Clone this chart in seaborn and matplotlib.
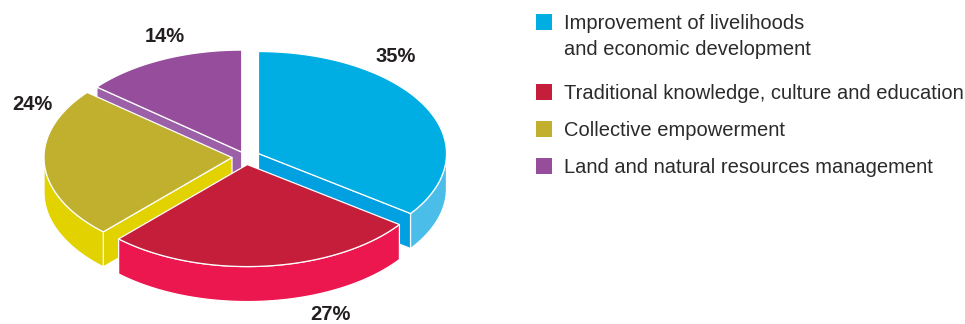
import numpy as np
import matplotlib
matplotlib.use("Agg")
import matplotlib.pyplot as plt
from matplotlib.patches import Polygon, Rectangle
import seaborn as sns

# Data
categories = [
    "Improvement of livelihoods\nand economic development",
    "Traditional knowledge, culture and education",
    "Collective empowerment",
    "Land and natural resources management",
]
shares = [35, 27, 24, 14]

# Styling
top_colors = ["#00aee3", "#c41e3a", "#c0b02e", "#954d9c"]
wall_colors = ["#4bbde9", "#ed174f", "#e1d200", "#9c60a9"]
face_colors = ["#00a0e1", "#d81b45", "#e1d200", "#9c60a9"]
explode = [14, 14, 14, 10]

sns.set_theme(style="white")
plt.rcParams["font.family"] = ["Liberation Sans", "DejaVu Sans"]
palette = sns.color_palette(top_colors)

fig = plt.figure(figsize=(9.65, 3.24), dpi=100)
ax = fig.add_axes([0, 0, 1, 1])
ax.set_xlim(0, 965)
ax.set_ylim(324, 0)
ax.axis("off")

# Pie geometry (pixel space, y down)
CX, CY = 246, 157
RX, RY = 188, 102
DEPTH = 35
K = RY / RX
EDGE = dict(edgecolor="white", linewidth=0.9, joinstyle="round")


def rim(cx, cy, angles, dy=0.0):
    a = np.radians(angles)
    return np.column_stack([cx + RX * np.cos(a), cy - RY * np.sin(a) + dy])


fracs = np.array(shares, dtype=float) / np.sum(shares)
starts = 90 - 360 * np.concatenate([[0], np.cumsum(fracs)[:-1]])
ends = starts - 360 * fracs
mids = (starts + ends) / 2

# paint slices from the back to the front
order = sorted(range(len(shares)), key=lambda i: -np.sin(np.radians(mids[i])))

for i in order:
    t1, t2, m = starts[i], ends[i], mids[i]
    cx = CX + explode[i] * np.cos(np.radians(m))
    cy = CY - explode[i] * K * np.sin(np.radians(m))
    centre_top = np.array([[cx, cy]])
    centre_bot = np.array([[cx, cy + DEPTH]])

    # cut faces that turn toward the viewer
    if np.cos(np.radians(t1)) < -1e-9:
        p_top = rim(cx, cy, [t1])
        p_bot = rim(cx, cy, [t1], DEPTH)
        ax.add_patch(Polygon(np.vstack([centre_top, p_top, p_bot, centre_bot]),
                             closed=True, facecolor=face_colors[i], **EDGE))
    if np.cos(np.radians(t2)) > 1e-9:
        p_top = rim(cx, cy, [t2])
        p_bot = rim(cx, cy, [t2], DEPTH)
        ax.add_patch(Polygon(np.vstack([centre_top, p_top, p_bot, centre_bot]),
                             closed=True, facecolor=face_colors[i], **EDGE))

    # outer wall on the front half of the rim
    for shift in (0, -360):
        hi = min(t1, 0 + shift)
        lo = max(t2, -180 + shift)
        if hi > lo:
            ang = np.linspace(hi, lo, 120)
            top = rim(cx, cy, ang)
            bot = rim(cx, cy, ang[::-1], DEPTH)
            ax.add_patch(Polygon(np.vstack([top, bot]), closed=True,
                                 facecolor=wall_colors[i], **EDGE))

    # top surface
    ang = np.linspace(t1, t2, 200)
    ax.add_patch(Polygon(np.vstack([centre_top, rim(cx, cy, ang)]), closed=True,
                         facecolor=palette[i], **EDGE))

# value labels
label_pos = [(396, 62), (330, 320), (32, 110), (165, 42)]
for s, (lx, ly) in zip(shares, label_pos):
    ax.text(lx, ly, f"{s}%", ha="center", va="baseline", fontsize=14.5,
            fontweight="bold", color="#231f20")

# legend
row_baselines = [29, 99, 136, 173]
for i, (name, base) in enumerate(zip(categories, row_baselines)):
    ax.add_patch(Rectangle((536, base - 15), 16, 16, facecolor=palette[i],
                           edgecolor="none"))
    for j, line in enumerate(name.split("\n")):
        ax.text(564, base + 26 * j, line, ha="left", va="baseline",
                fontsize=14.5, color="#2b2b2b")

fig.savefig("out.png", dpi=100, facecolor="white")
